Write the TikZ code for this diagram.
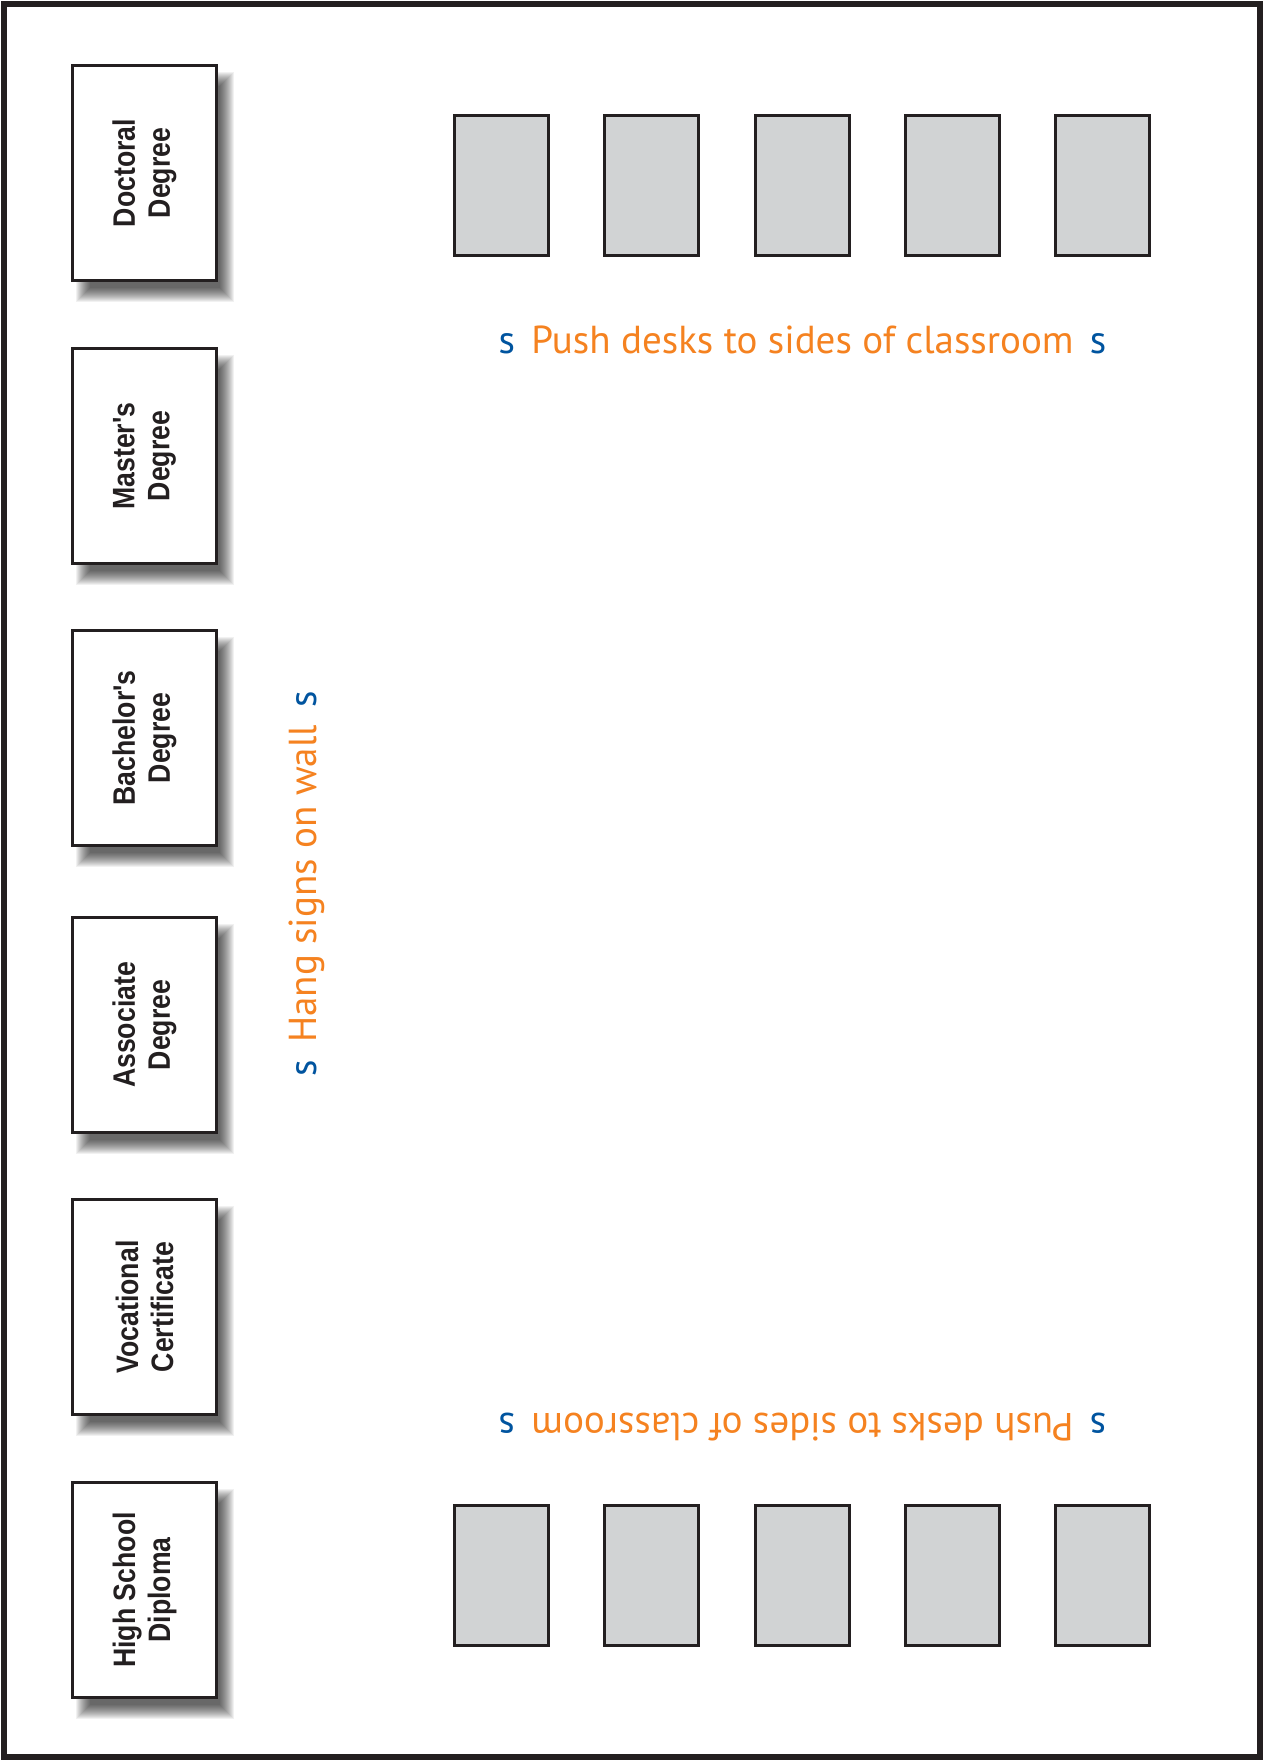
\documentclass[tikz,border=0pt]{standalone}
\usepackage{fontspec}
\newfontfamily\degfont[FakeStretch=0.86]{Liberation Sans}
\newfontfamily\notefont{PT Sans}
\definecolor{ink}{HTML}{231F20}
\definecolor{deskgray}{HTML}{D1D3D4}
\definecolor{noteorange}{HTML}{F58220}
\definecolor{noteblue}{HTML}{00549F}
\newcommand\bluess{{\color{noteblue}s}}
\begin{document}
\begin{tikzpicture}[x=1pt,y=-1pt,
  degbox/.style={draw=ink, line width=2.5pt, fill=white, rotate=90,
    minimum width=215pt, minimum height=144pt, inner sep=0pt, align=center,
    font=\degfont\bfseries\fontsize{31}{35}\selectfont, text=ink},
  desk/.style={draw=ink, line width=3pt, fill=deskgray,
    minimum width=94pt, minimum height=140pt, inner sep=0pt},
  note/.style={font=\notefont\fontsize{39}{44}\selectfont, text=noteorange,
    inner sep=0pt, anchor=base},
  shadowlayer/.style={fill=black, opacity=0.055}
]
\useasboundingbox (0,0) rectangle (1264,1761);
\fill[white] (0,0) rectangle (1264,1761);
\draw[ink, line width=6pt] (4,4) rectangle (1260,1756.5);

% degree signs with soft shadows
\foreach \n/\cy/\t in {doct/173/{Doctoral\\Degree},
                       mast/456/{Master's\\Degree},
                       bach/738/{Bachelor's\\Degree},
                       asso/1025/{Associate\\Degree},
                       voca/1307/{Vocational\\Certificate},
                       high/1590/{High School\\Diploma}} {
  \foreach \k in {-7,...,7} {
    \fill[shadowlayer] ({144.5-72+10-\k},{\cy-108+14-\k}) rectangle ({144.5+72+10+\k},{\cy+108+14+\k});
  }
  \node[degbox] (\n) at (144.5,\cy) {\t};
}

% desks
\foreach \i/\x in {1/501.5,2/651.5,3/802,4/952.5,5/1102.5} {
  \node[desk] (top\i) at (\x,185.5) {};
  \node[desk] (bot\i) at (\x,1575.5) {};
}

% instructions
\node[note] (pushtop) at (802.5,353) {\bluess\hspace{0.42em}Push desks to sides of classroom\hspace{0.42em}\bluess};
\node[note, rotate=180] (pushbot) at (802.5,1413) {\bluess\hspace{0.42em}Push desks to sides of classroom\hspace{0.42em}\bluess};
\node[note, rotate=90] (hang) at (316,884) {\bluess\hspace{0.45em}Hang signs on wall\hspace{0.45em}\bluess};
\end{tikzpicture}
\end{document}
